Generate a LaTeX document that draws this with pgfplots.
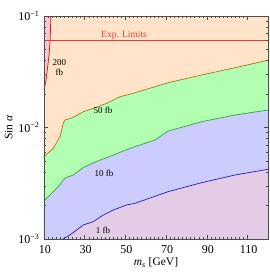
\documentclass[border=0pt]{standalone}
\usepackage{pgfplots}
\pgfplotsset{compat=1.18}
\usepackage{fontspec}
\setmainfont{Liberation Serif}
\definecolor{peach}{RGB}{255,228,202}
\definecolor{lgreen}{RGB}{178,255,178}
\definecolor{lblue}{RGB}{204,204,255}
\definecolor{lpurple}{RGB}{228,204,230}
\definecolor{lpink}{RGB}{255,200,204}
\definecolor{cred}{RGB}{200,20,30}
\definecolor{cbrown}{RGB}{180,110,30}
\definecolor{cgreen}{RGB}{40,170,50}
\definecolor{cblue}{RGB}{30,30,200}
\definecolor{cexp}{RGB}{230,60,60}
\begin{document}
\begin{tikzpicture}
\useasboundingbox (-44pt,-37pt) rectangle (226pt,239pt);
\begin{axis}[
  at={(0,0)}, anchor=south west,
  scale only axis, width=224pt, height=223pt,
  xmin=10, xmax=120, ymin=0.001, ymax=0.1,
  ymode=log,
  axis background/.style={fill=peach},
  xtick={10,30,50,70,90,110},
  minor x tick num=9,
  ytick={0.001,0.01,0.1},
  yticklabels={10\textsuperscript{−3},10\textsuperscript{−2},10\textsuperscript{−1}},
  tick align=inside,
  major tick length=4pt, minor tick length=2pt,
  every tick/.style={black!70, line width=0.5pt},
  axis line style={black!70, line width=0.6pt},
  tick label style={font=\fontsize{12}{13}\selectfont},
  yticklabel style={xshift=-1pt},
  xticklabel style={yshift=-3pt, xshift=1pt},
  /pgf/number format/assume math mode=true,
  xlabel={\textit{m\textsubscript{s}} [GeV]},
  ylabel={Sin \textit{α}},
  label style={font=\fontsize{11.5}{13}\selectfont},
  xlabel style={yshift=3pt},
  ylabel style={yshift=-1pt},
  axis on top,
  clip=true,
]
% green region: below 50 fb curve
\addplot[fill=lgreen, draw=none] coordinates {
(10,0.001) (10,0.00547) (14.57,0.0065) (17.86,0.00828) (19.48,0.0109) (20.3,0.01167)
(24.4,0.01233) (29.3,0.01387) (34.2,0.01486) (40.8,0.01647) (47.3,0.01887) (54.7,0.0205)
(71.0,0.02523) (87.4,0.02958) (103.8,0.03436) (120,0.0401) (120,0.001)} -- cycle;
% blue region: below 10 fb curve
\addplot[fill=lblue, draw=none] coordinates {
(10,0.001) (10,0.0022) (12.95,0.00248) (17.0,0.00295) (19.5,0.00338) (21.1,0.00357)
(24.4,0.00375) (29.3,0.00438) (35.5,0.00493) (44.0,0.00566) (52.2,0.0065) (64.5,0.00773)
(71.0,0.0093) (87.4,0.01127) (103.8,0.01294) (120,0.01435) (120,0.001)} -- cycle;
% purple region: below 1 fb curve
\addplot[fill=lpurple, draw=none] coordinates {
(19.3,0.001) (22.8,0.001087) (26.1,0.001205) (29.3,0.001337) (34.2,0.00143) (39.1,0.00164)
(44.0,0.00182) (50.6,0.00202) (54.7,0.00209) (71.0,0.00266) (87.4,0.0032) (103.8,0.00375)
(120,0.00422) (120,0.001)} -- cycle;
% pink region: left of 200 fb curve
\addplot[fill=lpink, draw=none] coordinates {
(10,0.1) (13.3,0.1) (13.2,0.075) (13.0,0.06) (12.5,0.045) (11.8,0.0349) (11.0,0.0267) (10,0.0217)} -- cycle;
% curves
\addplot[cbrown, line width=0.7pt] coordinates {
(10,0.00547) (14.57,0.0065) (17.86,0.00828) (19.48,0.0109) (20.3,0.01167)
(24.4,0.01233) (29.3,0.01387) (34.2,0.01486) (40.8,0.01647) (47.3,0.01887) (54.7,0.0205)
(71.0,0.02523) (87.4,0.02958) (103.8,0.03436) (120,0.0401)};
\addplot[cgreen, line width=0.7pt] coordinates {
(10,0.0022) (12.95,0.00248) (17.0,0.00295) (19.5,0.00338) (21.1,0.00357)
(24.4,0.00375) (29.3,0.00438) (35.5,0.00493) (44.0,0.00566) (52.2,0.0065) (64.5,0.00773)
(71.0,0.0093) (87.4,0.01127) (103.8,0.01294) (120,0.01435)};
\addplot[cblue, line width=0.7pt] coordinates {
(19.3,0.001) (22.8,0.001087) (26.1,0.001205) (29.3,0.001337) (34.2,0.00143) (39.1,0.00164)
(44.0,0.00182) (50.6,0.00202) (54.7,0.00209) (71.0,0.00266) (87.4,0.0032) (103.8,0.00375)
(120,0.00422)};
\addplot[cred, line width=0.7pt] coordinates {
(13.3,0.1) (13.2,0.075) (13.0,0.06) (12.5,0.045) (11.8,0.0349) (11.0,0.0267) (10,0.0217)};
\addplot[cexp, line width=0.8pt] coordinates {(10,0.06) (120,0.06)};
% labels
\node[font=\fontsize{9}{9.5}\selectfont, align=center] at (axis cs:17.6,0.0345) {200\\fb};
\node[font=\fontsize{9}{9.5}\selectfont] at (axis cs:39,0.0141) {50 fb};
\node[font=\fontsize{9}{9.5}\selectfont] at (axis cs:39.5,0.0039) {10 fb};
\node[font=\fontsize{9}{9.5}\selectfont] at (axis cs:39,0.0012) {1 fb};
\node[font=\fontsize{9.5}{10}\selectfont, text=cexp] at (axis cs:49.3,0.0665) {Exp. Limits};
\end{axis}
\end{tikzpicture}
\end{document}
